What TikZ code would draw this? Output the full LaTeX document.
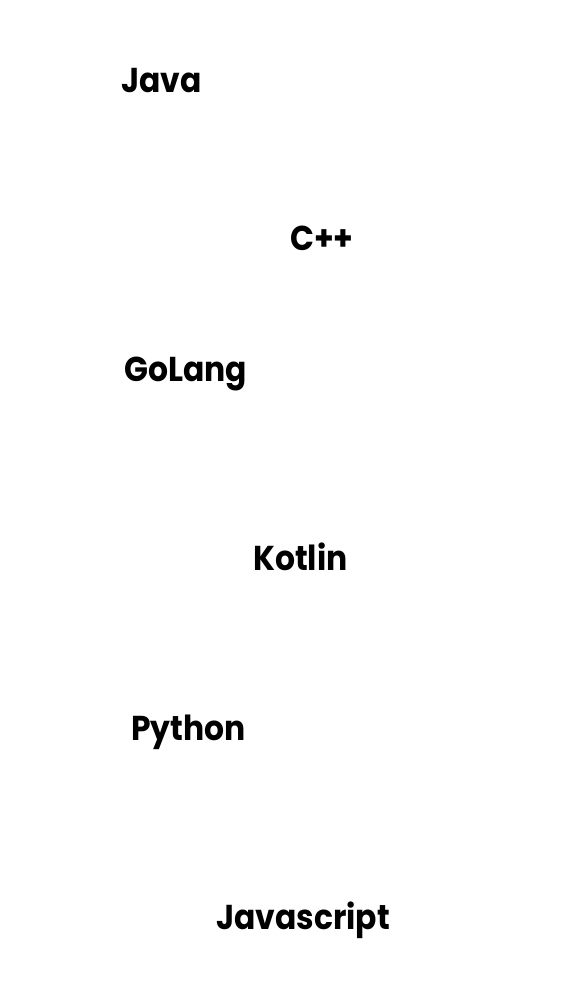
\documentclass[tikz,border=0pt]{standalone}
\usepackage{fontspec}
\setmainfont[FakeStretch=0.91]{Poppins}
\usetikzlibrary{positioning}

\begin{document}
\begin{tikzpicture}[x=1pt,y=-1pt]
        % programming languages, scattered
        \tikzstyle{lang} = [inner sep=0pt,anchor=base west,font=\fontsize{34.5}{40}\selectfont\bfseries];

        \useasboundingbox (0,0) rectangle (572,1006);

        \node[lang] (java)       at (121,93)  {Java};
        \node[lang] (cpp)        at (290,250) {C++};
        \node[lang] (golang)     at (124,381) {GoLang};
        \node[lang] (kotlin)     at (253,570) {Kotlin};
        \node[lang] (python)     at (131,740) {Python};
        \node[lang] (javascript) at (216,929) {Javascript};

    \end{tikzpicture}
\end{document}
